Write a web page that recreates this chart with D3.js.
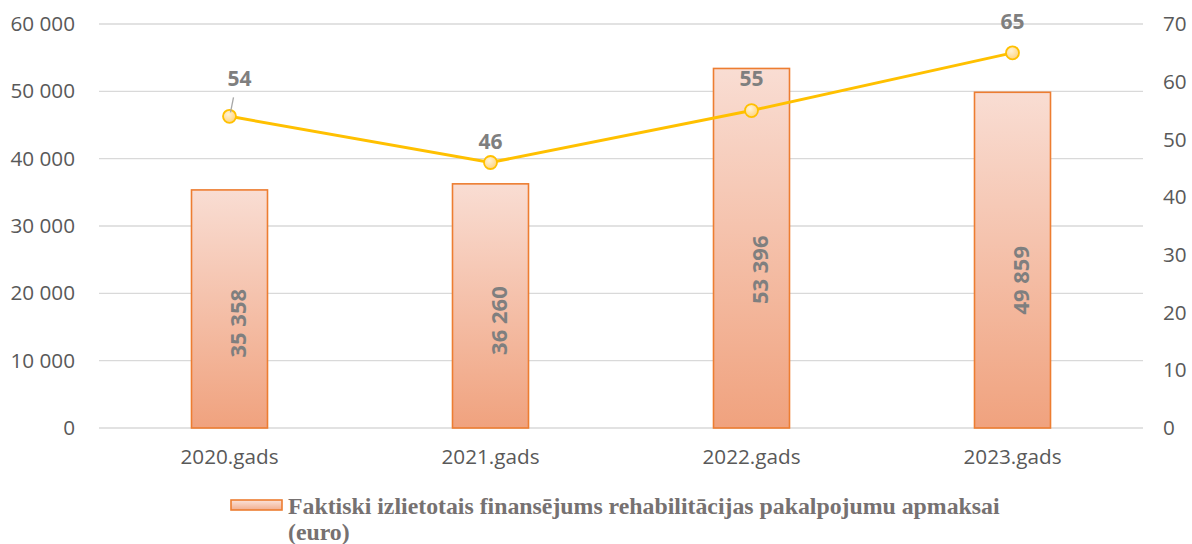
<!DOCTYPE html>
<html>
<head>
<meta charset="utf-8">
<script src="https://cdn.jsdelivr.net/npm/d3@7"></script>
<style>
  body { margin: 0; background: #fff; }
  text { font-family: "Open Sans", "Noto Sans", sans-serif; }
</style>
</head>
<body>
<div id="chart"></div>
<script>
// data
const years = ["2020.gads", "2021.gads", "2022.gads", "2023.gads"];
const funding = [35358, 36260, 53396, 49859];
const clients = [54, 46, 55, 65];
const leftTicks = [0, 10000, 20000, 30000, 40000, 50000, 60000];
const rightTicks = [0, 10, 20, 30, 40, 50, 60, 70];
const legendLines = ["Faktiski izlietotais finansējums rehabilitācijas pakalpojumu apmaksai", "(euro)"];

const W = 1192, H = 544;
const margin = {top: 24, right: 49, bottom: 116, left: 99};
const width = W - margin.left - margin.right;
const height = H - margin.top - margin.bottom;

const fmt = v => d3.format(",")(v).replace(/,/g, " ");
const axisFont = 20.7;

const svg = d3.select("#chart").append("svg")
    .attr("width", W).attr("height", H);

const defs = svg.append("defs");
const grad = defs.append("linearGradient").attr("id", "barGrad")
    .attr("x1", 0).attr("y1", 0).attr("x2", 0).attr("y2", 1);
grad.append("stop").attr("offset", "0%").attr("stop-color", "#f9ddd3");
grad.append("stop").attr("offset", "100%").attr("stop-color", "#f0a27e");
const mgrad = defs.append("radialGradient").attr("id", "dotGrad")
    .attr("cx", "40%").attr("cy", "35%").attr("r", "70%");
mgrad.append("stop").attr("offset", "0%").attr("stop-color", "#fff3d6");
mgrad.append("stop").attr("offset", "100%").attr("stop-color", "#ffd27a");
const lgrad = defs.append("linearGradient").attr("id", "legGrad")
    .attr("x1", 0).attr("y1", 0).attr("x2", 0).attr("y2", 1);
lgrad.append("stop").attr("offset", "0%").attr("stop-color", "#fbe3da");
lgrad.append("stop").attr("offset", "100%").attr("stop-color", "#f2ae8e");

const g = svg.append("g")
    .attr("transform", "translate(" + margin.left + "," + margin.top + ")");

const x = d3.scaleBand().domain(years).range([0, width]);
const yL = d3.scaleLinear().domain([0, 60000]).range([height, 0]);
const yR = d3.scaleLinear().domain([0, 70]).range([height, 0]);

// gridlines
g.selectAll(".grid").data(leftTicks).enter().append("line")
    .attr("x1", 0).attr("x2", width)
    .attr("y1", d => yL(d)).attr("y2", d => yL(d))
    .attr("stroke", "#d9d9d9").attr("stroke-width", 1.3);

// left axis
const axL = g.append("g").call(d3.axisLeft(yL).tickValues(leftTicks).tickFormat(fmt).tickSize(0).tickPadding(24));
axL.select(".domain").remove();
axL.selectAll("text").attr("font-size", axisFont).attr("fill", "#595959")
    .style("font-family", "'Open Sans', sans-serif");

// right axis
const axR = g.append("g").attr("transform", "translate(" + width + ",0)")
    .call(d3.axisRight(yR).tickValues(rightTicks).tickSize(0).tickPadding(20));
axR.select(".domain").remove();
axR.selectAll("text").attr("font-size", axisFont).attr("fill", "#595959")
    .style("font-family", "'Open Sans', sans-serif");

// x axis
const axX = g.append("g").attr("transform", "translate(0," + height + ")")
    .call(d3.axisBottom(x).tickSize(0).tickPadding(21));
axX.select(".domain").remove();
axX.selectAll("text").attr("font-size", axisFont).attr("fill", "#595959")
    .style("font-family", "'Open Sans', sans-serif");

// bars
const bw = 76;
g.selectAll(".bar").data(funding).enter().append("rect")
    .attr("x", (d, i) => x(years[i]) + x.bandwidth() / 2 - bw / 2)
    .attr("width", bw)
    .attr("y", d => yL(d))
    .attr("height", d => height - yL(d))
    .attr("fill", "url(#barGrad)")
    .attr("stroke", "#ed7d31").attr("stroke-width", 1.6);

// bar labels (rotated)
g.selectAll(".blab").data(funding).enter().append("text")
    .attr("transform", (d, i) => "translate(" + (x(years[i]) + x.bandwidth() / 2 + 9) + "," + yL(d * 0.44) + ") rotate(-90)")
    .attr("text-anchor", "middle")
    .attr("dy", "0.35em")
    .attr("font-size", 22).attr("font-weight", "bold").attr("fill", "#7f7f7f")
    .text(d => fmt(d));

// line
const cx = i => x(years[i]) + x.bandwidth() / 2;
g.append("path").datum(clients)
    .attr("d", d3.line().x((d, i) => cx(i)).y(d => yR(d)))
    .attr("fill", "none").attr("stroke", "#ffc000").attr("stroke-width", 3);

g.selectAll(".dot").data(clients).enter().append("circle")
    .attr("cx", (d, i) => cx(i)).attr("cy", d => yR(d)).attr("r", 6.5)
    .attr("fill", "url(#dotGrad)").attr("stroke", "#ffc000").attr("stroke-width", 1.8);

// leader line for first label
g.append("line")
    .attr("x1", cx(0) + 4).attr("y1", yR(clients[0]) - 19)
    .attr("x2", cx(0) + 1).attr("y2", yR(clients[0]) - 4)
    .attr("stroke", "#a6a6a6").attr("stroke-width", 1.3);

const labOff = [[10, -38], [0, -21], [0, -32], [0, -31]];
g.selectAll(".llab").data(clients).enter().append("text")
    .attr("x", (d, i) => cx(i) + labOff[i][0])
    .attr("y", (d, i) => yR(d) + labOff[i][1])
    .attr("text-anchor", "middle")
    .attr("dy", "0.35em")
    .attr("font-size", 21).attr("font-weight", "bold").attr("fill", "#7f7f7f")
    .text(d => d);

// legend
svg.append("rect").attr("x", 231).attr("y", 500).attr("width", 51).attr("height", 10)
    .attr("fill", "url(#legGrad)").attr("stroke", "#ed7d31").attr("stroke-width", 1.6);
svg.selectAll(".leg").data(legendLines).enter().append("text")
    .attr("x", 288).attr("y", (d, i) => 514 + i * 26)
    .style("font-family", "'Liberation Serif', 'Times New Roman', serif")
    .attr("font-size", 23.8).attr("font-weight", "bold").attr("fill", "#767171")
    .text(d => d);
</script>
</body>
</html>
